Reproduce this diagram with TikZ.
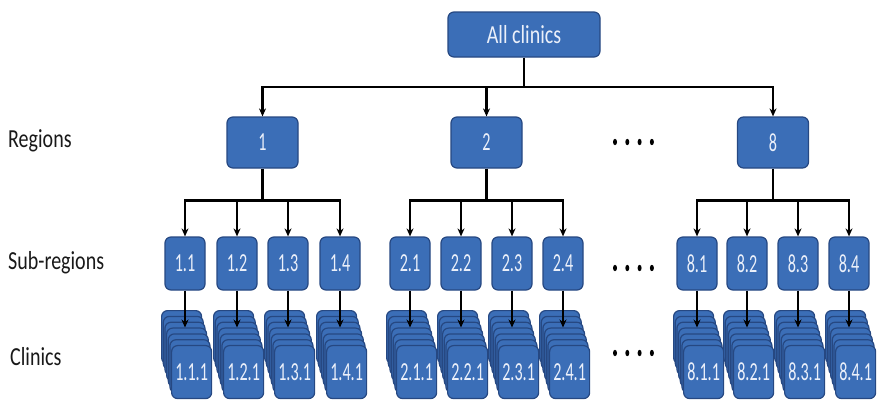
\documentclass[tikz,border=0pt]{standalone}
\usepackage{fontspec}
\setmainfont{Carlito}[FakeStretch=0.77]
\newfontfamily\boxfont{Carlito}[FakeStretch=0.62]
\usetikzlibrary{arrows.meta,calc}
\definecolor{boxfill}{RGB}{59,110,183}
\definecolor{boxline}{RGB}{38,72,130}
\definecolor{boxtext}{RGB}{235,240,250}
\tikzset{
  bluebox/.style={draw=boxline, fill=boxfill, line width=1.2pt, rounded corners=6pt,
    text=boxtext, inner sep=0pt, font=\boxfont\fontsize{26}{28}\selectfont},
  topbox/.style={bluebox, minimum width=152pt, minimum height=45pt, font=\fontsize{26}{30}\selectfont},
  regbox/.style={bluebox, minimum width=71pt, minimum height=51pt},
  subbox/.style={bluebox, minimum width=40pt, minimum height=53pt},
  clinbox/.style={bluebox, minimum width=40pt, minimum height=53pt, anchor=north west},
  levellabel/.style={anchor=west, inner sep=0pt, text=black!90, font=\fontsize{26}{30}\selectfont},
  conn/.style={line width=2.5pt, black},
  arr/.style={conn, -{Stealth[length=8pt,width=7pt]}},
  dotmark/.style={fill=black, draw=none}
}
\newcommand\clinstack[3]{%
  \foreach \k in {0,...,6}{%
    \node[clinbox] (#1-\k) at ({#2-4+\k*1.67},{310+\k*5.83}) {\ifnum\k=6 #3\fi};
  }%
}
\begin{document}
\begin{tikzpicture}[x=1pt,y=-1pt]
\clip (0,0) rectangle (877,399);
\fill[white] (0,0) rectangle (877,399);

% level labels
\node[levellabel] (lreg) at (8,141) {Regions};
\node[levellabel] (lsub) at (8,263) {Sub-regions};
\node[levellabel] (lcli) at (10,357) {Clinics};

% top
\node[topbox] (all) at (524,34.5) {All clinics};
\node[regbox] (r1) at (262.5,142.5) {1};
\node[regbox] (r2) at (486.5,142.5) {2};
\node[regbox] (r8) at (773,142.5) {8};

\coordinate (bus0) at (524,87);
\draw[conn] (all.south) -- (bus0);
\draw[conn, line cap=rect] (r1.north |- bus0) -- (r8.north |- bus0);
\foreach \r in {r1,r2,r8}{
  \draw[arr] (\r.north |- bus0) -- (\r.north);
}

% sub-regions
\foreach \n/\x/\t in {s11/185/1.1, s12/237/1.2, s13/288/1.3, s14/340/1.4,
                      s21/410/2.1, s22/461/2.2, s23/512/2.3, s24/563/2.4,
                      s81/697/8.1, s82/747/8.2, s83/798/8.3, s84/849/8.4}{
  \node[subbox] (\n) at (\x,263.5) {\t};
}

\foreach \r/\a/\b/\c/\d in {r1/s11/s12/s13/s14, r2/s21/s22/s23/s24, r8/s81/s82/s83/s84}{
  \coordinate (\r bus) at ($(\r.south)+(0,32)$);
  \draw[conn] (\r.south) -- (\r bus);
  \draw[conn, line cap=rect] (\a.north |- \r bus) -- (\d.north |- \r bus);
  \foreach \s in {\a,\b,\c,\d}{
    \draw[arr] (\s.north |- \r bus) -- (\s.north);
  }
}

% clinics stacks
\foreach \n/\x/\t in {c11/165/1.1.1, c12/217/1.2.1, c13/268/1.3.1, c14/320/1.4.1,
                      c21/390/2.1.1, c22/441/2.2.1, c23/492/2.3.1, c24/543/2.4.1,
                      c81/677/8.1.1, c82/727/8.2.1, c83/778/8.3.1, c84/829/8.4.1}{
  \clinstack{\n}{\x}{\t}
}
\foreach \s/\c in {s11/c11, s12/c12, s13/c13, s14/c14, s21/c21, s22/c22, s23/c23, s24/c24,
                   s81/c81, s82/c82, s83/c83, s84/c84}{
  \draw[arr] (\s.south) -- (\s.south |- \c-3.north);
}

% ellipsis dots
\foreach \y/\nm in {142/dr, 268/ds, 353/dc}{
  \foreach \i in {0,1,2,3}{
    \fill[dotmark] ({615+\i*12.3},\y) ellipse [x radius=2pt, y radius=3.2pt];
  }
}
\end{tikzpicture}
\end{document}
